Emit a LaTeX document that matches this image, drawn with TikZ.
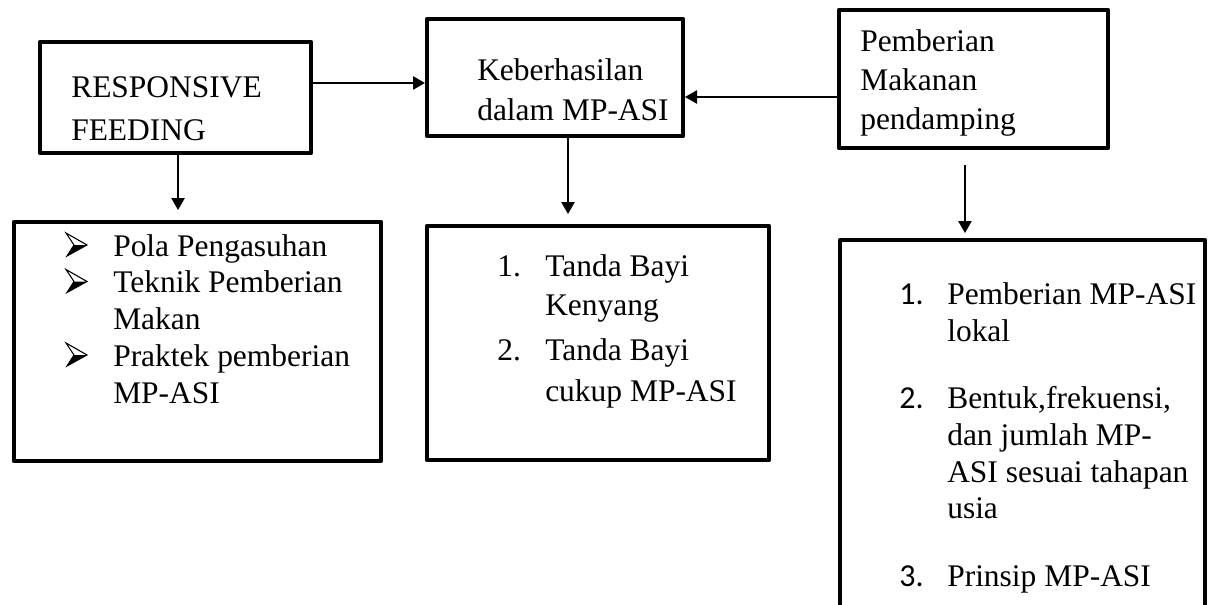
\documentclass[tikz,border=0pt]{standalone}
\usepackage{fontspec}
\setmainfont{Liberation Serif}
\newfontfamily\numfont{Carlito}
\usetikzlibrary{arrows.meta,fit}
\begin{document}
\begin{tikzpicture}[x=0.75pt,y=-0.75pt,
  box/.style={draw, line width=3.4pt, line join=round, inner sep=0pt, outer sep=0pt},
  arr/.style={line width=1.2pt, -{Triangle[length=9pt,width=10pt]}},
  txt/.style={anchor=base west, inner sep=0pt, font=\fontsize{23.6}{28}\selectfont},
  num/.style={anchor=base west, inner sep=0pt, font=\numfont\fontsize{24}{28}\selectfont},
  wbul/.pic={
    \draw[line width=0.8pt, line join=miter, fill=white] (0,-23) -- (21,-11) -- (1,0) -- (8,-11) -- cycle;
    \fill (8,-11) -- (21,-11) -- (1,0) -- cycle;
  }]
\fill[white] (0,0) rectangle (1214,604);
\useasboundingbox (0,0) rectangle (1214,604);
\begin{scope}
\clip (0,0) rectangle (1214,604);
% boxes
\node[box, fit={(40,42)(311,153)}] (rf) {};
\node[box, fit={(427,19)(683,136)}] (keb) {};
\node[box, fit={(839,10)(1108,148)}] (pmp) {};
\node[box, fit={(14,222)(381,461)}] (lsA) {};
\node[box, fit={(427,226)(769,460)}] (lsB) {};
\node[box, fit={(840,240)(1205,640)}] (lsC) {};
% texts top
\node[txt] (t1) at (71,97) {RESPONSIVE};
\node[txt] (t2) at (71,140) {FEEDING};
\node[txt] (t3) at (477,80) {Keberhasilan};
\node[txt] (t4) at (477,120) {dalam MP-ASI};
\node[txt] (t5) at (860,51) {Pemberian};
\node[txt] (t6) at (860,90) {Makanan};
\node[txt] (t7) at (860,129) {pendamping};
% left list
\pic at (66,256) {wbul};
\pic at (66,292.5) {wbul};
\pic at (66,366) {wbul};
\node[txt] (d1) at (113,256) {Pola Pengasuhan};
\node[txt] (d2) at (113,292.5) {Teknik Pemberian};
\node[txt] (d3) at (113,329) {Makan};
\node[txt] (d4) at (113,366) {Praktek pemberian};
\node[txt] (d5) at (113,403) {MP-ASI};
% middle list
\node[txt] (e1n) at (497,276) {1.};
\node[txt] (e1) at (545,276) {Tanda Bayi};
\node[txt] (e2) at (545,315) {Kenyang};
\node[txt] (e3n) at (497,360) {2.};
\node[txt] (e3) at (545,360) {Tanda Bayi};
\node[txt] (e4) at (545,401) {cukup MP-ASI};
% right list
\node[num] (f1n) at (899,304) {1.};
\node[txt] (f1) at (947,304) {Pemberian MP-ASI};
\node[txt] (f2) at (947,341) {lokal};
\node[num] (f3n) at (899,408) {2.};
\node[txt] (f3) at (947,408) {Bentuk,frekuensi,};
\node[txt] (f4) at (947,445) {dan jumlah MP-};
\node[txt] (f5) at (947,482) {ASI sesuai tahapan};
\node[txt] (f6) at (947,518) {usia};
\node[num] (f7n) at (899,586) {3.};
\node[txt] (f7) at (947,586) {Prinsip MP-ASI};
% connectors
\path ([yshift=10.9pt]rf.east) coordinate (a1);
\draw[arr, shorten >=1.5pt] (a1) -- (a1 -| keb.west);
\path ([yshift=-13.5pt]pmp.west) coordinate (c1);
\draw[arr, shorten >=1.5pt] (c1) -- (c1 -| keb.east);
\path ([xshift=1.9pt]rf.south) coordinate (a2);
\draw[arr, shorten >=9pt] (a2) -- (a2 |- lsA.north);
\path ([xshift=9.75pt]keb.south) coordinate (b2c);
\draw[arr, shorten >=9pt] (b2c) -- (b2c |- lsB.north);
\path ([xshift=-6.4pt]pmp.south) coordinate (c2);
\draw[arr, shorten <=12.75pt, shorten >=5.25pt] (c2) -- (c2 |- lsC.north);
\end{scope}
\end{tikzpicture}
\end{document}
